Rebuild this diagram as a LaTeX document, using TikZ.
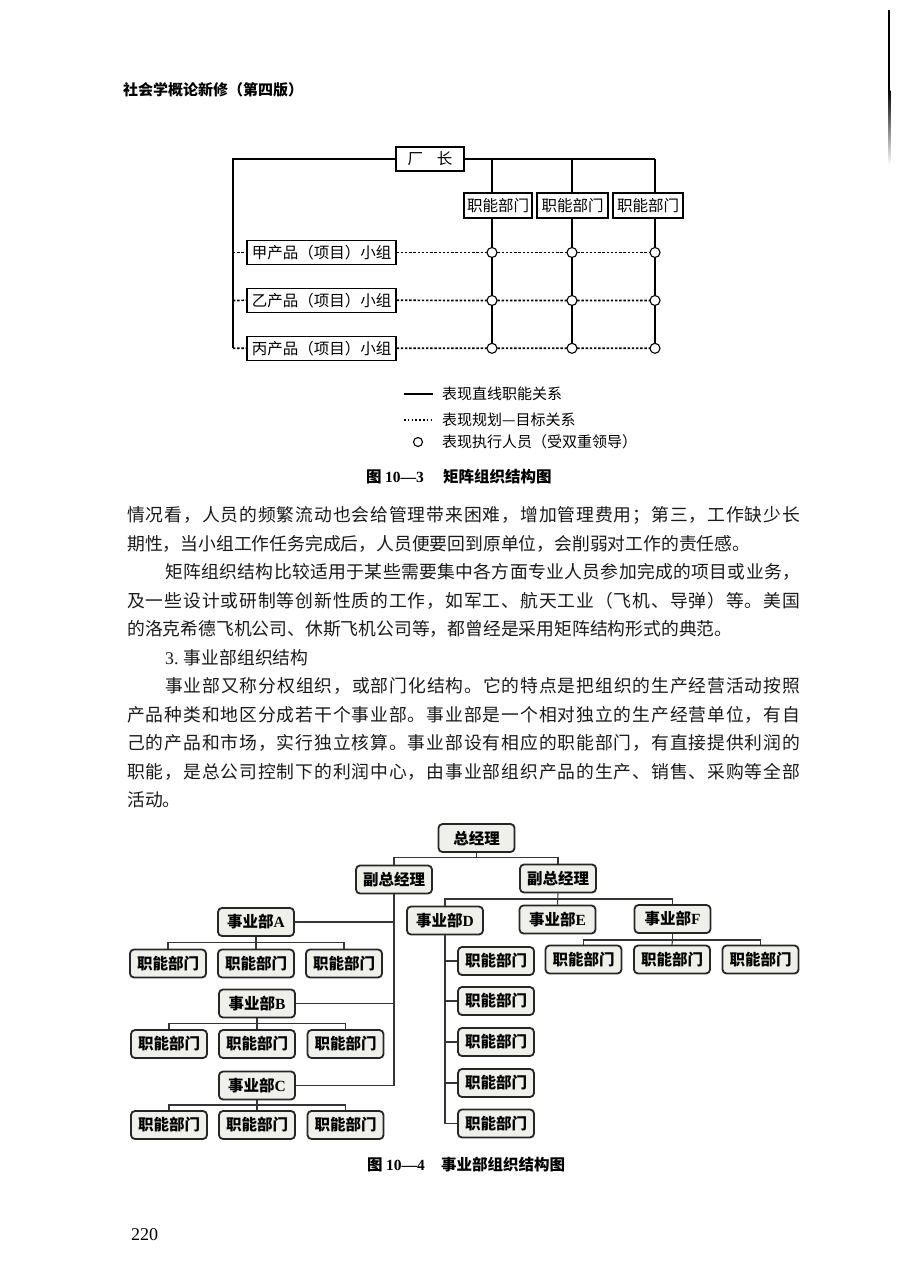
\documentclass[tikz,border=0pt]{standalone}
\usepackage{fontspec}
\setmainfont{Noto Sans CJK SC}
\newfontfamily\lat{Liberation Serif}
\definecolor{boxgray}{HTML}{F0F0EA}
\definecolor{linec}{HTML}{3A3333}
\definecolor{ink}{HTML}{1A1A1A}
\newcommand\bodyf{\fontsize{17.8}{20}\selectfont}
\makeatletter
\def\jstf#1#2{\hbox to #1{\jst@first#2\relax}}
\def\jst@first#1{#1\jst@loop}
\def\jst@loop#1{\ifx#1\relax\else\hskip 0pt plus 1fil #1\expandafter\jst@loop\fi}
\makeatother
\begin{document}
\begin{tikzpicture}[x=1pt,y=-1pt,
  nline/.style={anchor=west, inner sep=0pt, font=\bodyf, text=ink},
  d1box/.style={draw, line width=1.2pt, inner sep=0pt, font=\fontsize{15.5}{16}\selectfont},
  d2box/.style={draw=black!85, line width=1.8pt, rounded corners=4pt, fill=boxgray, minimum width=76, minimum height=28, inner sep=0pt, font=\fontsize{15.5}{16}\selectfont\bfseries},
  circ/.style={circle, draw, line width=1.1pt, minimum size=10pt, inner sep=0pt, fill=white, path picture={\fill (path picture bounding box.center) circle (1pt);}},
  dotl/.style={line width=1.7pt, dash pattern=on 2.4pt off 1.8pt},
  sol/.style={line width=1.5pt},
  conn/.style={line width=1.1pt, draw=linec},
  legt/.style={anchor=west, inner sep=0pt, font=\fontsize{15}{16}\selectfont},
  capt/.style={inner sep=0pt, font=\fontsize{15.5}{16}\selectfont\bfseries}
]
\useasboundingbox (0,0) rectangle (900,1288);
\fill[white] (0,0) rectangle (900,1288);
% page edge mark
\fill[black] (888,10) rectangle (890.4,90);
\shade[top color=black, bottom color=white] (888,90) rectangle (890.4,165);
% header
\node[anchor=west, inner sep=0pt, font=\fontsize{15}{16}\selectfont\bfseries] (hd) at (123,90) {社会学概论新修（第四版）};

% ---------- Diagram 10-3 ----------
\node[d1box, minimum width=68, minimum height=24] (cz) at (430,159) {厂\hspace{0.9em}长};
\node[d1box, minimum width=68, minimum height=25] (zn1) at (498,205.5) {职能部门};
\node[d1box, minimum width=71, minimum height=25] (zn2) at (572.5,205.5) {职能部门};
\node[d1box, minimum width=70, minimum height=25] (zn3) at (648,205.5) {职能部门};
\node[d1box, minimum width=149, minimum height=24] (g1) at (321.5,252.5) {甲产品（项目）小组};
\node[d1box, minimum width=149, minimum height=24] (g2) at (321.5,300.3) {乙产品（项目）小组};
\node[d1box, minimum width=149, minimum height=24] (g3) at (321.5,348.2) {丙产品（项目）小组};
\foreach \r/\y in {1/252.5,2/300.5,3/348.3}{
  \foreach \c/\x in {1/492,2/572,3/655}{\coordinate (p\r\c) at (\x,\y);}
  \coordinate (s\r) at (233,\y);
}
\coordinate (v1) at (492,159);
\coordinate (v2) at (572,159);
\coordinate (v3) at (655,159);
\draw[sol] (cz.west) -| (s3);
\draw[sol] (cz.east) -- (v3);
\foreach \c in {1,2,3}{
  \draw[sol] (v\c) -- (v\c |- zn\c.north);
  \draw[sol] (v\c |- zn\c.south) -- (p3\c);
}
\foreach \r in {1,2,3}{
  \draw[dotl] (s\r) -- (g\r.west);
  \draw[dotl] (g\r.east) -- (p\r1) -- (p\r2) -- (p\r3);
}
\foreach \r in {1,2,3}{\foreach \c in {1,2,3}{\node[circ] (c\r\c) at (p\r\c) {};}}

% legend
\coordinate (la1) at (404,394);
\coordinate (lb1) at (433,394);
\coordinate (la2) at (404,420);
\coordinate (lb2) at (434,420);
\draw[line width=1.4pt] (la1) -- (lb1);
\draw[line width=1.6pt, dash pattern=on 1.6pt off 2.2pt] (la2) -- (lb2);
\node[circ, minimum size=9pt] (lc) at (418,442) {};
\node[legt] (lt1) at (442,394) {表现直线职能关系};
\node[legt] (lt2) at (442,420) {表现规划—目标关系};
\node[legt] (lt3) at (442,442) {表现执行人员（受双重领导）};
\node[capt, anchor=east] (cap1a) at (424,477) {图 {\lat\bfseries 10—3}};
\node[capt, anchor=west] (cap1b) at (443,477) {矩阵组织结构图};

% ---------- body text ----------
\node[nline] (t1) at (127,515) {\jstf{673pt}{情况看，人员的频繁流动也会给管理带来困难，增加管理费用；第三，工作缺少长}};
\node[nline] (t2) at (127,543.5) {期性，当小组工作任务完成后，人员便要回到原单位，会削弱对工作的责任感。};
\node[nline] (t3) at (165,572) {\jstf{635pt}{矩阵组织结构比较适用于某些需要集中各方面专业人员参加完成的项目或业务，}};
\node[nline] (t4) at (127,600.5) {\jstf{673pt}{及一些设计或研制等创新性质的工作，如军工、航天工业（飞机、导弹）等。美国}};
\node[nline] (t5) at (127,629) {的洛克希德飞机公司、休斯飞机公司等，都曾经是采用矩阵结构形式的典范。};
\node[nline] (t6) at (165,657.5) {{\lat 3.} 事业部组织结构};
\node[nline] (t7) at (165,686) {\jstf{635pt}{事业部又称分权组织，或部门化结构。它的特点是把组织的生产经营活动按照}};
\node[nline] (t8) at (127,714.5) {\jstf{673pt}{产品种类和地区分成若干个事业部。事业部是一个相对独立的生产经营单位，有自}};
\node[nline] (t9) at (127,743) {\jstf{673pt}{己的产品和市场，实行独立核算。事业部设有相应的职能部门，有直接提供利润的}};
\node[nline] (t10) at (127,771.5) {\jstf{673pt}{职能，是总公司控制下的利润中心，由事业部组织产品的生产、销售、采购等全部}};
\node[nline] (t11) at (127,800) {活动。};

% ---------- Diagram 10-4 ----------
\node[d2box] (zjl) at (476.5,838) {总经理};
\node[d2box] (fzl) at (394,879.5) {副总经理};
\node[d2box] (fzr) at (558,878.5) {副总经理};
\node[d2box] (sA) at (256,922) {事业部{\lat\bfseries A}};
\node[d2box] (sB) at (257,1003.5) {事业部{\lat\bfseries B}};
\node[d2box] (sC) at (257,1085.5) {事业部{\lat\bfseries C}};
\node[d2box] (sD) at (445,920.5) {事业部{\lat\bfseries D}};
\node[d2box] (sE) at (557.5,919.5) {事业部{\lat\bfseries E}};
\node[d2box] (sF) at (672.5,919) {事业部{\lat\bfseries F}};
\foreach \k/\x in {1/168,2/256,3/344} \node[d2box] (a\k) at (\x,963.5) {职能部门};
\foreach \k/\x in {1/169,2/257,3/345.5} \node[d2box] (b\k) at (\x,1044) {职能部门};
\foreach \k/\x in {1/169,2/257,3/345.5} \node[d2box] (c\k) at (\x,1125) {职能部门};
\foreach \k/\x in {1/583.5,2/672,3/760.5} \node[d2box] (f\k) at (\x,959.5) {职能部门};
\foreach \k/\y in {1/961,2/1001,3/1042,4/1083,5/1123.5} \node[d2box] (d\k) at (496,\y) {职能部门};

\coordinate (h0) at (476.5,857.7);
\draw[conn] (zjl.south) -- (h0);
\draw[conn] (fzl.north) |- (h0) -| (fzr.north);
\draw[conn] (fzl.south) -- (fzl.south |- sC.east);
\foreach \s in {sA,sB,sC} \draw[conn] (\s.east) -- (\s.east -| fzl.south);
\coordinate (ha) at (256,942.7);
\coordinate (hb) at (257,1023.5);
\coordinate (hc) at (257,1105);
\draw[conn] (sA.south) -- (ha);
\draw[conn] (a1.north) |- (ha) -| (a3.north);
\draw[conn] (ha) -- (a2.north);
\draw[conn] (sB.south) -- (hb);
\draw[conn] (b1.north) |- (hb) -| (b3.north);
\draw[conn] (hb) -- (b2.north);
\draw[conn] (sC.south) -- (hc);
\draw[conn] (c1.north) |- (hc) -| (c3.north);
\draw[conn] (hc) -- (c2.north);
\coordinate (hr) at (558,899);
\draw[conn] (fzr.south) -- (sE.north);
\draw[conn] (sD.north) |- (hr) -| (sF.north);
\draw[conn] (sD.south) -- (sD.south |- d5.west);
\foreach \k in {1,...,5} \draw[conn] (d\k.west) -- (d\k.west -| sD.south);
\coordinate (hf) at (672.5,940);
\draw[conn] (sF.south) -- (hf);
\draw[conn] (f1.north) |- (hf) -| (f3.north);
\draw[conn] (hf) -- (f2.north);

\node[capt, anchor=east] (cap2a) at (425,1165) {图 {\lat\bfseries 10—4}};
\node[capt, anchor=west] (cap2b) at (441,1165) {事业部组织结构图};

% page number
\node[anchor=west, inner sep=0pt, font=\lat\fontsize{18}{20}\selectfont] (pg) at (131,1235) {220};
\end{tikzpicture}
\end{document}
